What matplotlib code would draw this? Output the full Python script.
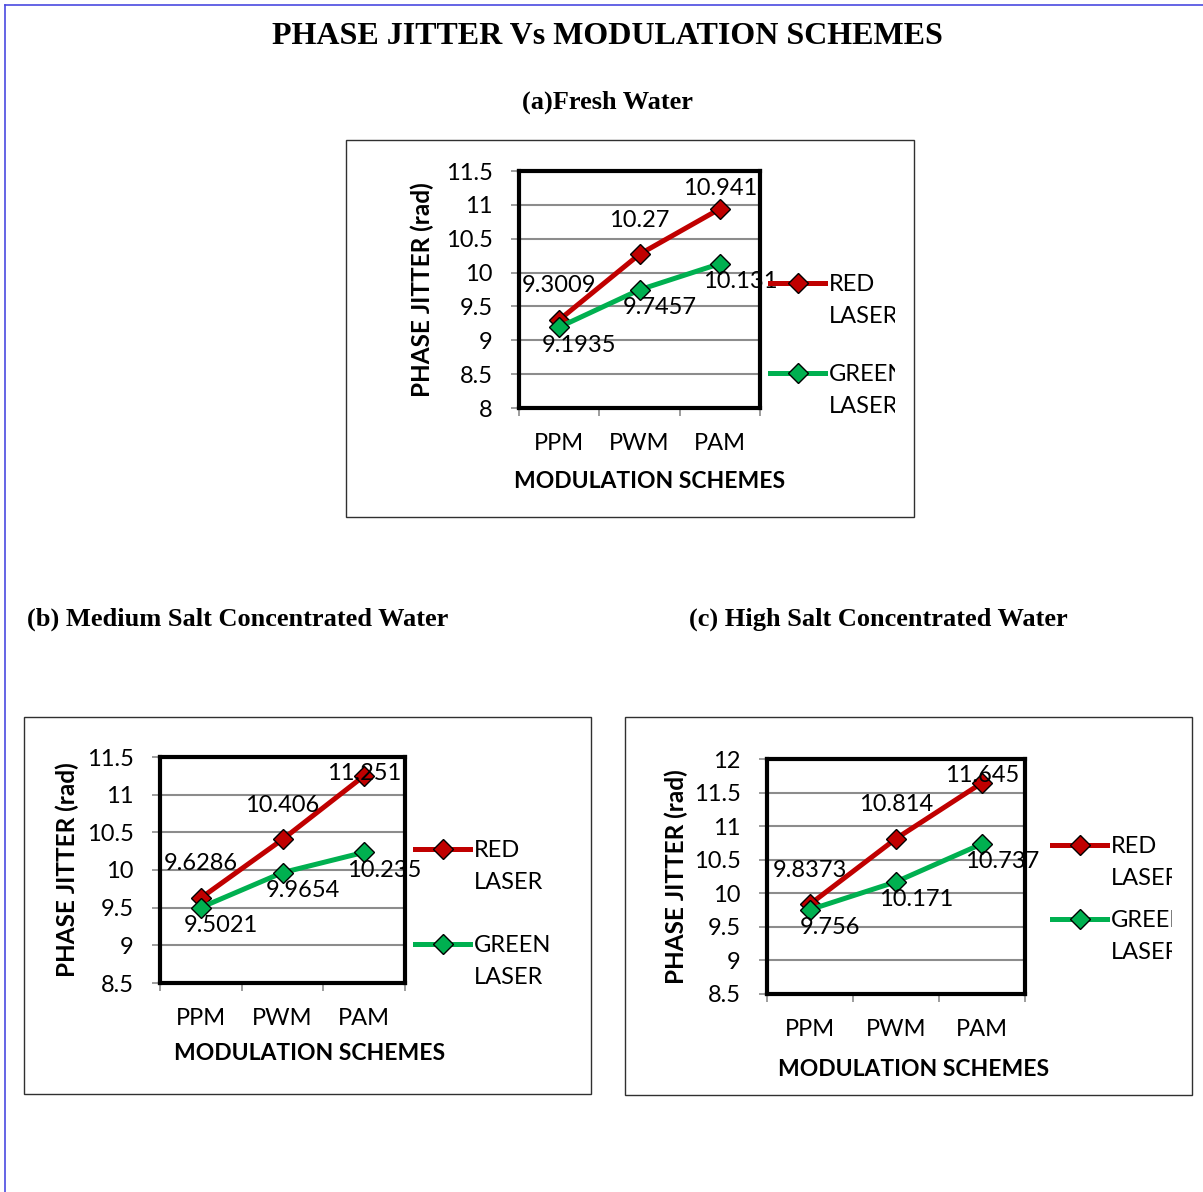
import matplotlib
matplotlib.use('Agg')
import matplotlib.pyplot as plt
from matplotlib.lines import Line2D
from matplotlib.patches import Rectangle
from matplotlib.transforms import Bbox, TransformedBbox

schemes = ['PPM', 'PWM', 'PAM']
fresh_red = [9.3009, 10.27, 10.941]
fresh_green = [9.1935, 9.7457, 10.131]
medium_red = [9.6286, 10.406, 11.251]
medium_green = [9.5021, 9.9654, 10.235]
high_red = [9.8373, 10.814, 11.645]
high_green = [9.756, 10.171, 10.737]
series_names = ['RED\nLASER', 'GREEN\nLASER']

W, H = 1203, 1192
RED = '#C00000'
GREEN = '#00B050'
SANS = 'Lato'
SERIF = 'Liberation Serif'
FS = 17

fig = plt.figure(figsize=(W / 100, H / 100), dpi=100)


def rect(l, t, r, b):
    return [l / W, 1 - b / H, (r - l) / W, (b - t) / H]


def fxy(x, y):
    return x / W, 1 - y / H


# page border (blue, top and left)
fig.add_artist(Line2D([fxy(5, 5)[0], 1], [fxy(5, 5)[1]] * 2, color='#4a4ae0', lw=1.2))
fig.add_artist(Line2D([fxy(5, 5)[0]] * 2, [0, fxy(5, 5)[1]], color='#4a4ae0', lw=1.2))

fig.text(*fxy(607, 37), 'PHASE JITTER Vs MODULATION SCHEMES', family=SERIF,
         weight='bold', fontsize=23, ha='center', va='center')
fig.text(*fxy(607, 102), '(a)Fresh Water', family=SERIF, weight='bold',
         fontsize=19, ha='center', va='center')
fig.text(*fxy(27, 619), '(b) Medium Salt Concentrated Water', family=SERIF,
         weight='bold', fontsize=19, ha='left', va='center')
fig.text(*fxy(689, 619), '(c) High Salt Concentrated Water', family=SERIF,
         weight='bold', fontsize=19, ha='left', va='center')

panels = [
    dict(box=(346, 140, 914, 517), area=(519, 171, 760, 408), ylim=(8, 11.5),
         red=fresh_red, green=fresh_green, ylab=(422, 290), xlab=(650, 481),
         leg_x=770, leg_y=(283, 373), clip=895),
    dict(box=(24, 717, 591, 1094), area=(160, 757, 405, 983), ylim=(8.5, 11.5),
         red=medium_red, green=medium_green, ylab=(67, 870), xlab=(310, 1053),
         leg_x=415, leg_y=(849, 944), clip=580),
    dict(box=(625, 717, 1192, 1095), area=(767, 759, 1025, 994), ylim=(8.5, 12),
         red=high_red, green=high_green, ylab=(676, 877), xlab=(914, 1069),
         leg_x=1052, leg_y=(845, 919), clip=1172),
]

for p in panels:
    bl, bt, br, bb = p['box']
    fig.add_artist(Rectangle(fxy(bl, bb), (br - bl) / W, (bb - bt) / H,
                             transform=fig.transFigure, fill=False,
                             ec='#303030', lw=1))
    al, at, ar, ab = p['area']
    ax = fig.add_axes(rect(al, at, ar, ab))
    y0, y1 = p['ylim']
    ax.set_xlim(0.5, 3.5)
    ax.set_ylim(y0, y1)
    yt = [y0 + 0.5 * i for i in range(int(round((y1 - y0) / 0.5)) + 1)]
    ax.set_yticks(yt)
    ax.set_yticklabels(['%g' % v for v in yt])
    ax.set_xticks([1, 2, 3])
    ax.set_xticklabels(schemes)
    ax.set_xticks([0.5, 1.5, 2.5, 3.5], minor=True)
    ax.tick_params(axis='x', which='major', length=0, pad=18)
    ax.tick_params(axis='x', which='minor', length=6, color='#8c8c8c', width=1.2)
    ax.tick_params(axis='y', length=6, color='#8c8c8c', width=1.2, pad=13)
    for lab in ax.get_xticklabels() + ax.get_yticklabels():
        lab.set_family(SANS)
        lab.set_fontsize(FS)
    ax.grid(axis='y', color='#8c8c8c', lw=1.5)
    ax.set_axisbelow(True)
    for s in ax.spines.values():
        s.set_linewidth(3)
        s.set_color('black')

    x = [1, 2, 3]
    ax.plot(x, p['red'], color=RED, lw=3.6, marker='D', ms=10, mfc=RED,
            mec='black', mew=1, zorder=3, clip_on=False)
    ax.plot(x, p['green'], color=GREEN, lw=3.6, marker='D', ms=10, mfc=GREEN,
            mec='black', mew=1, zorder=3, clip_on=False)

    ppu = (ab - at) / (y1 - y0)
    for xi, v in zip(x, p['red']):
        dist = (y1 - v) * ppu
        dy = min(34, dist - 17)
        ax.annotate('%g' % v, (xi, v), xytext=(0, dy * 0.72),
                    textcoords='offset points', ha='center', va='center',
                    family=SANS, fontsize=FS, zorder=4)
    for xi, v in zip(x, p['green']):
        ax.annotate('%g' % v, (xi, v), xytext=(20 * 0.72, -18 * 0.72),
                    textcoords='offset points', ha='center', va='center',
                    family=SANS, fontsize=FS, zorder=4)

    fig.text(*fxy(*p['ylab']), 'PHASE JITTER (rad)', rotation=90,
             ha='center', va='center', family=SANS, weight='bold',
             fontsize=17.5)
    fig.text(*fxy(*p['xlab']), 'MODULATION SCHEMES', ha='center', va='center',
             family=SANS, weight='bold', fontsize=16.5)

    # legend entries
    cb = TransformedBbox(Bbox.from_extents(0, 0, p['clip'] / W, 1), fig.transFigure)
    lx = p['leg_x']
    for ly, c, name in zip(p['leg_y'], [RED, GREEN], series_names):
        xa, ya = fxy(lx, ly)
        xb, _ = fxy(lx + 55, ly)
        fig.add_artist(Line2D([xa, xb], [ya, ya], color=c, lw=3.6,
                              transform=fig.transFigure))
        fig.add_artist(Line2D([(xa + xb) / 2], [ya], color=c, marker='D',
                              ms=10, mfc=c, mec='black', mew=1,
                              transform=fig.transFigure))
        t = fig.text(*fxy(lx + 59, ly - 9), name, ha='left', va='top',
                     family=SANS, fontsize=FS, linespacing=1.65)
        t.set_clip_box(cb)
        t.set_clip_on(True)

fig.savefig('out.png', dpi=100)
